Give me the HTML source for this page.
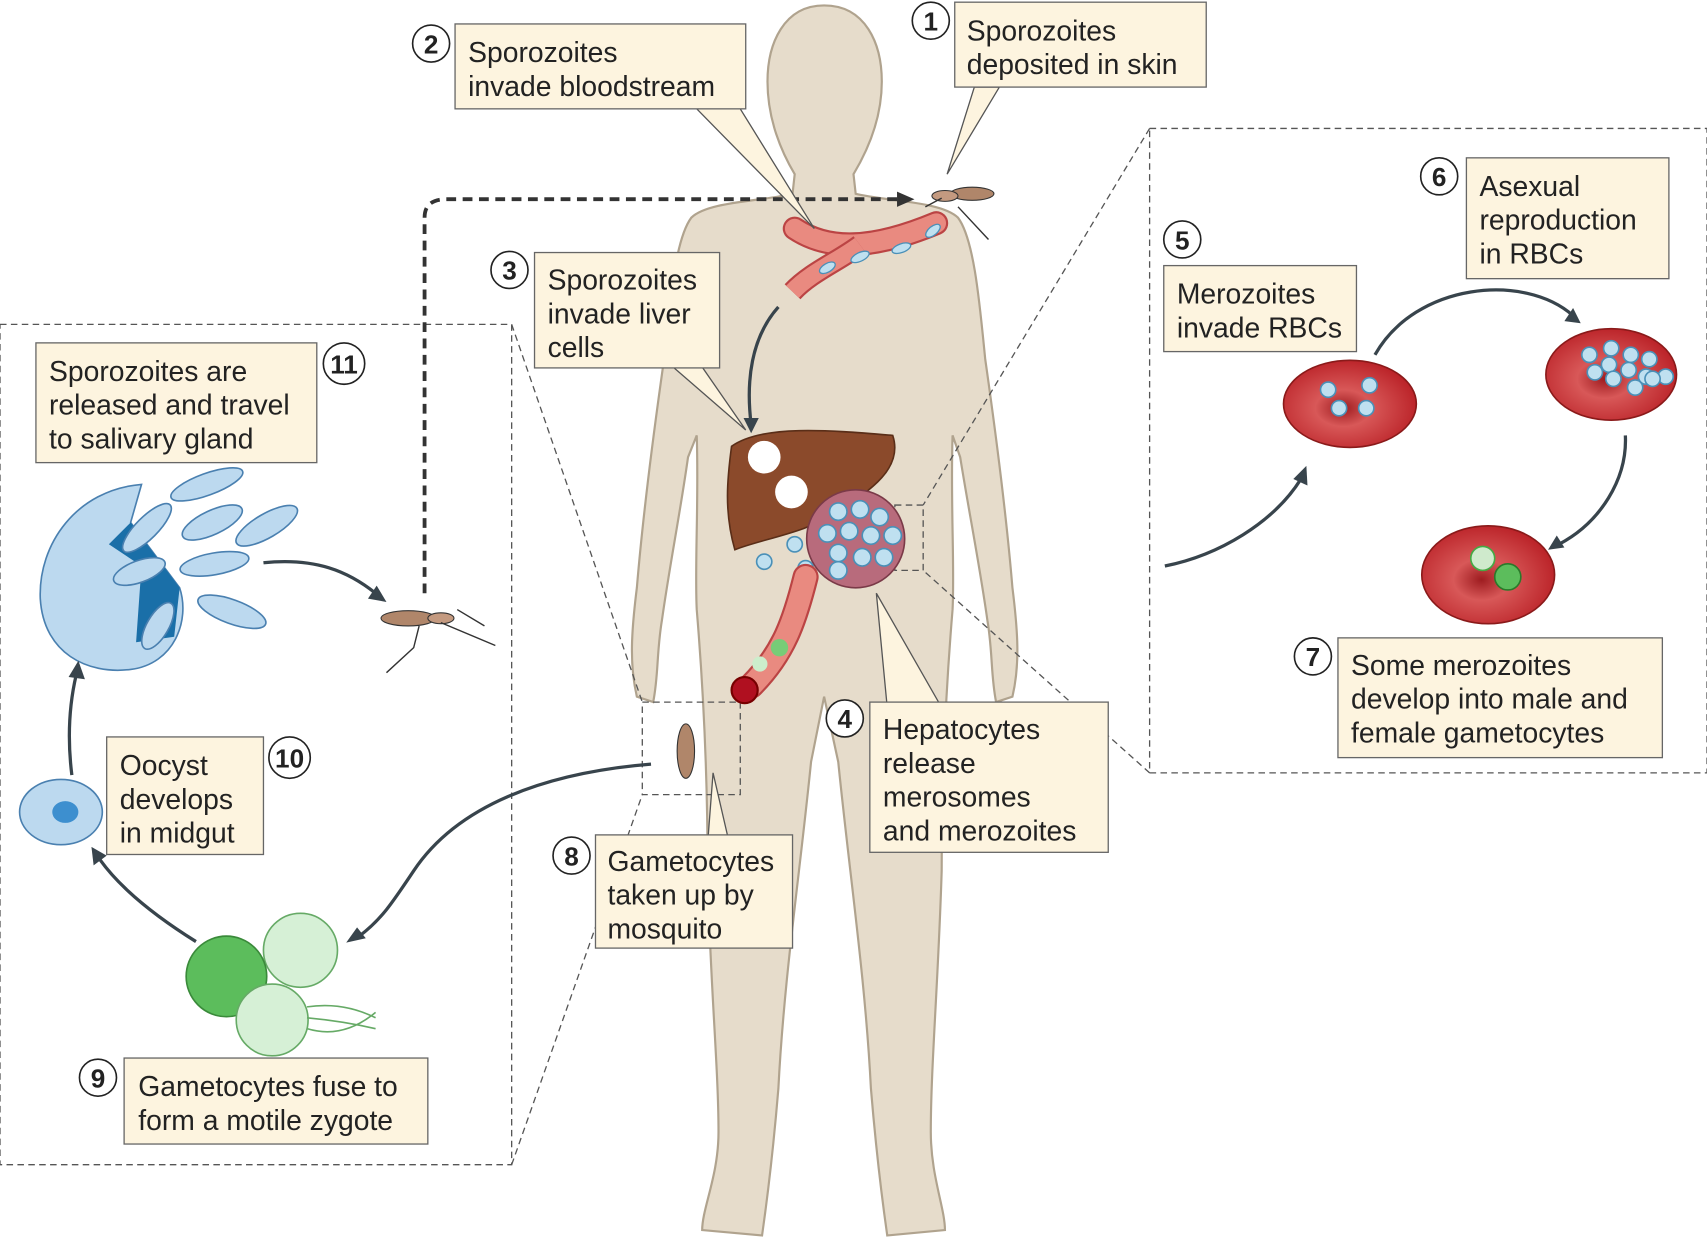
<!DOCTYPE html>
<html><head><meta charset="utf-8"><style>
html,body{margin:0;padding:0;background:#fff;}
svg{display:block;}
text{font-family:"Liberation Sans",sans-serif;fill:#222;}
.lbl{font-size:26px;}
</style></head><body>
<svg width="1707" height="1242" viewBox="0 0 1568 1141" preserveAspectRatio="none" xmlns="http://www.w3.org/2000/svg">
<defs>
<radialGradient id="rbc" cx="0.45" cy="0.55" r="0.6"><stop offset="0" stop-color="#9e1c20"/><stop offset="0.35" stop-color="#d85858"/><stop offset="1" stop-color="#b81e24"/></radialGradient>
</defs>
<rect width="1568" height="1141" fill="#fff"/>
<g fill="#e6dccb" stroke="#b0a38e" stroke-width="2">
<path d="M757,5 C720,5 705,40 705,75 C705,110 718,140 730,160 L728,178 C700,185 650,185 635,200 C620,220 615,280 610,330 C600,400 590,480 585,540 C580,580 578,610 585,640 L600,645 C605,620 603,600 608,570 C615,520 625,470 632,420 L640,400 C642,460 638,520 640,560 C645,620 650,700 650,800 C652,900 660,980 660,1040 C660,1080 645,1110 645,1130 L700,1135 C705,1100 710,1060 715,1000 C720,900 735,800 745,700 L757,640 L770,700 C780,800 795,900 800,1000 C805,1060 810,1100 815,1135 L868,1130 C868,1110 855,1080 855,1040 C855,980 862,900 865,800 C865,700 870,620 875,560 C877,520 873,460 875,400 L882,420 C890,470 900,520 907,570 C912,600 910,620 915,645 L930,640 C937,610 935,580 930,540 C925,480 915,400 905,330 C900,280 895,220 880,200 C865,185 815,185 786,178 L784,160 C796,140 810,110 810,75 C810,40 795,5 757,5 Z"/>
</g>
<g fill="none" stroke="#555" stroke-width="1.2" stroke-dasharray="6,4">
<rect x="1056" y="118" width="512" height="592"/>
<rect x="0" y="298" width="470" height="772"/>
<rect x="822" y="464" width="26" height="60"/>
<rect x="590" y="645" width="90" height="85"/>
<line x1="1056" y1="118" x2="848" y2="464"/>
<line x1="1056" y1="710" x2="848" y2="524"/>
<line x1="470" y1="298" x2="590" y2="645"/>
<line x1="470" y1="1070" x2="590" y2="730"/>
</g>
<path d="M390,545 L390,200 Q390,183 410,183 L830,183" fill="none" stroke="#333" stroke-width="3.5" stroke-dasharray="9,6"/>
<polygon points="840,183 824,176 824,190" fill="#333"/>
<path d="M730,210 C760,230 800,230 860,205" fill="none" stroke="#b44" stroke-width="22" stroke-linecap="round"/>
<path d="M730,210 C760,230 800,230 860,205" fill="none" stroke="#e98a80" stroke-width="18" stroke-linecap="round"/>
<path d="M790,225 C770,240 745,250 728,268" fill="none" stroke="#b44" stroke-width="20"/>
<path d="M790,225 C770,240 745,250 728,268" fill="none" stroke="#e98a80" stroke-width="16"/>
<g fill="#bfe0f0" stroke="#4a90b8" stroke-width="1.2">
<ellipse cx="790" cy="236" rx="9" ry="4" transform="rotate(-25 790 236)"/><ellipse cx="828" cy="228" rx="9" ry="4" transform="rotate(-20 828 228)"/><ellipse cx="760" cy="246" rx="8" ry="4" transform="rotate(-30 760 246)"/><ellipse cx="857" cy="212" rx="8" ry="4" transform="rotate(-40 857 212)"/>
</g>
<path d="M672,410 C700,390 760,395 820,400 C830,430 800,450 770,470 C740,490 700,495 675,505 C665,470 668,440 672,410 Z" fill="#8b4a2b" stroke="#5a2e18" stroke-width="1.5"/>
<circle cx="702" cy="420" r="15" fill="#fff"/>
<circle cx="727" cy="452" r="15" fill="#fff"/>
<circle cx="786" cy="495" r="45" fill="#b86b7c" stroke="#7a3a48" stroke-width="1.5"/>
<g fill="#bfe0f0" stroke="#4a90b8" stroke-width="1.5">
<circle cx="770" cy="470" r="8"/><circle cx="790" cy="468" r="8"/><circle cx="808" cy="475" r="8"/><circle cx="760" cy="490" r="8"/><circle cx="780" cy="488" r="8"/><circle cx="800" cy="492" r="8"/><circle cx="820" cy="492" r="8"/><circle cx="770" cy="508" r="8"/><circle cx="792" cy="512" r="8"/><circle cx="812" cy="512" r="8"/><circle cx="770" cy="524" r="8"/><circle cx="740" cy="522" r="7"/><circle cx="702" cy="516" r="7"/><circle cx="730" cy="500" r="7"/>
</g>
<path d="M740,530 C730,570 720,600 690,630" fill="none" stroke="#b44" stroke-width="24" stroke-linecap="round"/>
<path d="M740,530 C730,570 720,600 690,630" fill="none" stroke="#e98a80" stroke-width="20" stroke-linecap="round"/>
<circle cx="684" cy="634" r="12" fill="#b01020" stroke="#700" stroke-width="2"/>
<circle cx="716" cy="595" r="8" fill="#7c7"/><circle cx="698" cy="610" r="7" fill="#cec"/>
<path d="M715,282 C690,310 685,350 690,390" fill="none" stroke="#38444c" stroke-width="3"/>
<polygon points="690,398 683,384 697,384" fill="#38444c"/>
<g fill="#b0866a" stroke="#333" stroke-width="1">
<ellipse cx="893" cy="178" rx="20" ry="6"/><ellipse cx="868" cy="180" rx="12" ry="5" fill="#c49a80"/>
<ellipse cx="375" cy="568" rx="25" ry="7"/><ellipse cx="405" cy="568" rx="12" ry="5" fill="#c49a80"/>
<ellipse cx="630" cy="690" rx="8" ry="25"/>
</g>
<path d="M355,618 L380,595 L385,575 M405,572 L455,593 M420,560 L445,575 M850,190 L865,182 M880,190 L908,220" stroke="#333" stroke-width="1.3" fill="none"/>
<path d="M130,445 C70,450 35,500 37,550 C40,600 80,620 120,615 C160,610 175,570 165,540 L120,480 Z" fill="#bcd9ef" stroke="#4a80b0" stroke-width="1.5"/>
<path d="M100,500 L130,520 L125,590 L160,585 L165,540 L120,480 Z" fill="#1a6fa8"/>
<g fill="#bcd9ef" stroke="#4a80b0" stroke-width="1.5">
<ellipse cx="190" cy="445" rx="35" ry="10" transform="rotate(-20 190 445)"/>
<ellipse cx="135" cy="485" rx="30" ry="10" transform="rotate(-45 135 485)"/>
<ellipse cx="195" cy="480" rx="30" ry="11" transform="rotate(-25 195 480)"/>
<ellipse cx="245" cy="483" rx="32" ry="11" transform="rotate(-30 245 483)"/>
<ellipse cx="197" cy="518" rx="32" ry="10" transform="rotate(-10 197 518)"/>
<ellipse cx="213" cy="562" rx="33" ry="11" transform="rotate(20 213 562)"/>
<ellipse cx="128" cy="525" rx="25" ry="10" transform="rotate(-20 128 525)"/>
<ellipse cx="145" cy="575" rx="24" ry="10" transform="rotate(-60 145 575)"/>
<ellipse cx="56" cy="746" rx="38" ry="30"/>
</g>
<ellipse cx="60" cy="746" rx="12" ry="10" fill="#3d8fcf"/>
<circle cx="276" cy="873" r="34" fill="#d6f0d6" stroke="#6a6" stroke-width="1.5"/>
<circle cx="208" cy="897" r="37" fill="#5cbd5c" stroke="#3a8a3a" stroke-width="1.5"/>
<circle cx="250" cy="937" r="33" fill="#d6f0d6" stroke="#6a6" stroke-width="1.5"/>
<path d="M282,925 Q315,920 345,935 M282,935 Q315,938 345,945 M282,945 Q315,955 345,930" fill="none" stroke="#6a6" stroke-width="1.5"/>
<g fill="none" stroke="#38444c" stroke-width="3">
<path d="M242,517 C290,512 320,525 345,545"/>
<path d="M66,712 C62,680 63,650 70,620"/>
<path d="M180,865 C140,840 110,815 92,790"/>
<path d="M598,702 C500,710 420,740 380,800 C360,830 350,845 330,860"/>
</g>
<g fill="#38444c">
<polygon points="355,553 338,550 346,538"/>
<polygon points="72,607 63,622 78,624"/>
<polygon points="84,778 86,795 98,786"/>
<polygon points="318,866 328,852 336,862"/>
</g>
<g stroke="#8a1a1a" stroke-width="1.5" fill="url(#rbc)">
<ellipse cx="1240" cy="371" rx="61" ry="40"/>
<ellipse cx="1480" cy="344" rx="60" ry="42"/>
<ellipse cx="1367" cy="528" rx="61" ry="45"/>
</g>
<g fill="#bfe0f0" stroke="#4a90b8" stroke-width="1.5">
<circle cx="1220" cy="358" r="7"/><circle cx="1258" cy="354" r="7"/><circle cx="1230" cy="375" r="7"/><circle cx="1255" cy="375" r="7"/>
<circle cx="1460" cy="326" r="7"/><circle cx="1480" cy="320" r="7"/><circle cx="1498" cy="326" r="7"/><circle cx="1515" cy="330" r="7"/><circle cx="1478" cy="335" r="7"/><circle cx="1496" cy="340" r="7"/><circle cx="1512" cy="346" r="7"/><circle cx="1530" cy="346" r="7"/><circle cx="1465" cy="342" r="7"/><circle cx="1482" cy="348" r="7"/><circle cx="1502" cy="356" r="7"/><circle cx="1518" cy="348" r="7"/>
</g>
<circle cx="1362" cy="513" r="11" fill="#cfeacc" stroke="#4a4" stroke-width="1.5"/>
<circle cx="1385" cy="530" r="12" fill="#5cbd5c" stroke="#2a7a2a" stroke-width="1.5"/>
<g fill="none" stroke="#38444c" stroke-width="3">
<path d="M1263,326 C1300,260 1400,250 1445,290"/>
<path d="M1493,400 C1495,440 1470,480 1432,500"/>
<path d="M1070,520 C1120,510 1170,480 1195,440"/>
</g>
<g fill="#38444c">
<polygon points="1452,297 1437,295 1445,283"/>
<polygon points="1422,505 1430,492 1437,503"/>
<polygon points="1200,428 1188,440 1201,446"/>
</g>
<g fill="#fdf4df" stroke="#555" stroke-width="1.2">
<path d="M640,100 L748,210 L680,100 Z"/>
<path d="M895,80 L870,160 L918,80 Z"/>
<path d="M610,330 L685,395 L640,330 Z"/>
<path d="M815,650 L805,545 L865,650 Z"/>
<path d="M650,775 L655,710 L670,775 Z"/>
</g>
<g fill="#fdf4df" stroke="#666" stroke-width="1.2">
<rect x="877" y="2" width="231" height="78"/>
<rect x="418" y="22" width="267" height="78"/>
<rect x="491" y="232" width="170" height="106"/>
<rect x="1347" y="145" width="186" height="111"/>
<rect x="1069" y="244" width="177" height="79"/>
<rect x="1229" y="586" width="298" height="110"/>
<rect x="799" y="645" width="219" height="138"/>
<rect x="547" y="767" width="181" height="104"/>
<rect x="33" y="315" width="258" height="110"/>
<rect x="98" y="677" width="144" height="108"/>
<rect x="114" y="972" width="279" height="79"/>
</g>
<g class="lbl">
<text x="888" y="37">Sporozoites</text><text x="888" y="68">deposited in skin</text>
<text x="430" y="57">Sporozoites</text><text x="430" y="88">invade bloodstream</text>
<text x="503" y="266">Sporozoites</text><text x="503" y="297">invade liver</text><text x="503" y="328">cells</text>
<text x="1359" y="180">Asexual</text><text x="1359" y="211">reproduction</text><text x="1359" y="242">in RBCs</text>
<text x="1081" y="279">Merozoites</text><text x="1081" y="310">invade RBCs</text>
<text x="1241" y="620">Some merozoites</text><text x="1241" y="651">develop into male and</text><text x="1241" y="682">female gametocytes</text>
<text x="811" y="679">Hepatocytes</text><text x="811" y="710">release</text><text x="811" y="741">merosomes</text><text x="811" y="772">and merozoites</text>
<text x="558" y="800">Gametocytes</text><text x="558" y="831">taken up by</text><text x="558" y="862">mosquito</text>
<text x="45" y="350">Sporozoites are</text><text x="45" y="381">released and travel</text><text x="45" y="412">to salivary gland</text>
<text x="110" y="712">Oocyst</text><text x="110" y="743">develops</text><text x="110" y="774">in midgut</text>
<text x="127" y="1007">Gametocytes fuse to</text><text x="127" y="1038">form a motile zygote</text>
</g>
<g fill="#fff" stroke="#222" stroke-width="1.5">
<circle cx="855" cy="19" r="17"/><circle cx="396" cy="40" r="17"/><circle cx="468" cy="248" r="17"/>
<circle cx="1086" cy="220" r="17"/><circle cx="1322" cy="162" r="17"/><circle cx="1206" cy="603" r="17"/>
<circle cx="776" cy="660" r="17"/><circle cx="525" cy="786" r="17"/><circle cx="90" cy="990" r="17"/>
<circle cx="266" cy="696" r="19"/><circle cx="316" cy="334" r="19"/>
</g>
<g font-size="24" font-weight="bold" text-anchor="middle">
<text x="855" y="28">1</text><text x="396" y="49">2</text><text x="468" y="257">3</text>
<text x="1086" y="229">5</text><text x="1322" y="171">6</text><text x="1206" y="612">7</text>
<text x="776" y="669">4</text><text x="525" y="795">8</text><text x="90" y="999">9</text>
<text x="266" y="705">10</text><text x="316" y="343">11</text>
</g>
</svg>
</body></html>
